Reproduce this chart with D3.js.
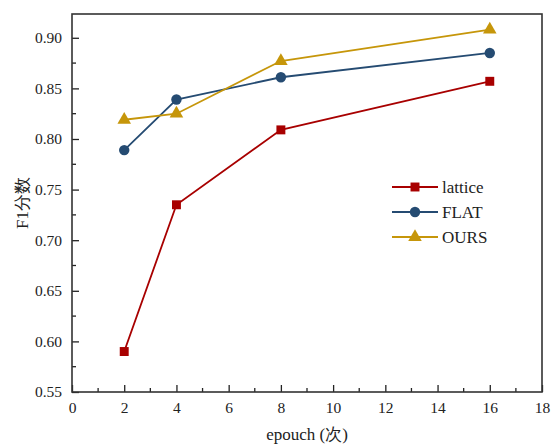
<!DOCTYPE html>
<html>
<head>
<meta charset="utf-8">
<script src="https://cdn.jsdelivr.net/npm/d3@7"></script>
<style>
  body { margin: 0; background: #fff; }
  text { font-family: "Liberation Serif", "Times New Roman", serif; fill: #222; }
</style>
</head>
<body>
<script>
// Data
var epochs = [2, 4, 8, 16];
var lattice = [0.590, 0.735, 0.809, 0.857];
var flat = [0.789, 0.839, 0.861, 0.885];
var ours = [0.819, 0.825, 0.877, 0.908];
var seriesNames = ["lattice", "FLAT", "OURS"];
var xTicks = [0, 2, 4, 6, 8, 10, 12, 14, 16, 18];
var yTicks = [0.55, 0.60, 0.65, 0.70, 0.75, 0.80, 0.85, 0.90];

var svgWidth = 551;
var svgHeight = 445;
var margin = { top: 14, right: 9, bottom: 53, left: 72 };
var width = svgWidth - margin.left - margin.right;
var height = svgHeight - margin.top - margin.bottom;

var svg = d3.select("body").append("svg")
  .attr("width", svgWidth)
  .attr("height", svgHeight);

var chartGroup = svg.append("g")
  .attr("transform", `translate(${margin.left}, ${margin.top})`);

var xScale = d3.scaleLinear().domain([0, 18]).range([0, width]);
var yScale = d3.scaleLinear().domain([0.55, 0.9235]).range([height, 0]);

// minor ticks (inward)
var xMinor = d3.range(1, 18, 2);
var yMinor = d3.range(0.575, 0.92, 0.05);

var bottomAxis = d3.axisBottom(xScale).tickValues(xTicks)
  .tickSize(-7).tickPadding(10).tickFormat(d3.format("d"));
var leftAxis = d3.axisLeft(yScale).tickValues(yTicks)
  .tickSize(-7).tickPadding(10).tickFormat(d3.format(".2f"));

var gx = chartGroup.append("g")
  .attr("transform", `translate(0, ${height})`)
  .call(bottomAxis);
var gy = chartGroup.append("g").call(leftAxis);

[gx, gy].forEach(function(g) {
  g.attr("font-family", null);
  g.select(".domain").remove();
  g.selectAll("line").attr("stroke", "#222").attr("stroke-width", 1.3);
  g.selectAll("text").style("font-size", "15.5px")
    .style("font-family", "'Liberation Serif', serif").attr("fill", "#222");
});

chartGroup.selectAll(".xminor").data(xMinor).enter().append("line")
  .attr("x1", d => xScale(d)).attr("x2", d => xScale(d))
  .attr("y1", height).attr("y2", height - 4)
  .attr("stroke", "#222").attr("stroke-width", 1.3);

chartGroup.selectAll(".yminor").data(yMinor).enter().append("line")
  .attr("x1", 0).attr("x2", 4)
  .attr("y1", d => yScale(d)).attr("y2", d => yScale(d))
  .attr("stroke", "#222").attr("stroke-width", 1.3);

// plot frame
chartGroup.append("rect")
  .attr("x", 0).attr("y", 0)
  .attr("width", width).attr("height", height)
  .attr("fill", "none")
  .attr("stroke", "#333")
  .attr("stroke-width", 1.6);

var series = [
  { name: seriesNames[0], values: lattice, color: "#A80000", symbol: d3.symbolSquare, size: 80 },
  { name: seriesNames[1], values: flat, color: "#254B72", symbol: d3.symbolCircle, size: 85 },
  { name: seriesNames[2], values: ours, color: "#C6960A", symbol: d3.symbolTriangle, size: 80 }
];

var line = d3.line()
  .x((d, i) => xScale(epochs[i]))
  .y(d => yScale(d));

series.forEach(function(s) {
  chartGroup.append("path")
    .datum(s.values)
    .attr("d", line)
    .attr("fill", "none")
    .attr("stroke", s.color)
    .attr("stroke-width", 1.8);

  chartGroup.selectAll(null)
    .data(s.values)
    .enter()
    .append("path")
    .attr("d", d3.symbol().type(s.symbol).size(s.size))
    .attr("transform", (d, i) => `translate(${xScale(epochs[i])}, ${yScale(d)})`)
    .attr("fill", s.color);
});

// legend
var legend = svg.append("g").attr("transform", "translate(392, 187)");
series.forEach(function(s, i) {
  var row = legend.append("g").attr("transform", `translate(0, ${i * 25})`);
  row.append("line")
    .attr("x1", 0).attr("x2", 46)
    .attr("y1", 0).attr("y2", 0)
    .attr("stroke", s.color).attr("stroke-width", 1.8);
  row.append("path")
    .attr("d", d3.symbol().type(s.symbol).size(s.size))
    .attr("transform", "translate(23, 0)")
    .attr("fill", s.color);
  row.append("text")
    .attr("x", 50).attr("y", 0).attr("dy", "0.35em")
    .style("font-size", "17px")
    .text(s.name);
});

// axis titles
svg.append("text")
  .attr("transform", `translate(${margin.left + width / 2}, 440)`)
  .attr("text-anchor", "middle")
  .style("font-size", "17px")
  .text("epouch (次)");

svg.append("text")
  .attr("transform", "translate(28, 203) rotate(-90)")
  .attr("text-anchor", "middle")
  .style("font-size", "17px")
  .text("F1分数");
</script>
</body>
</html>
